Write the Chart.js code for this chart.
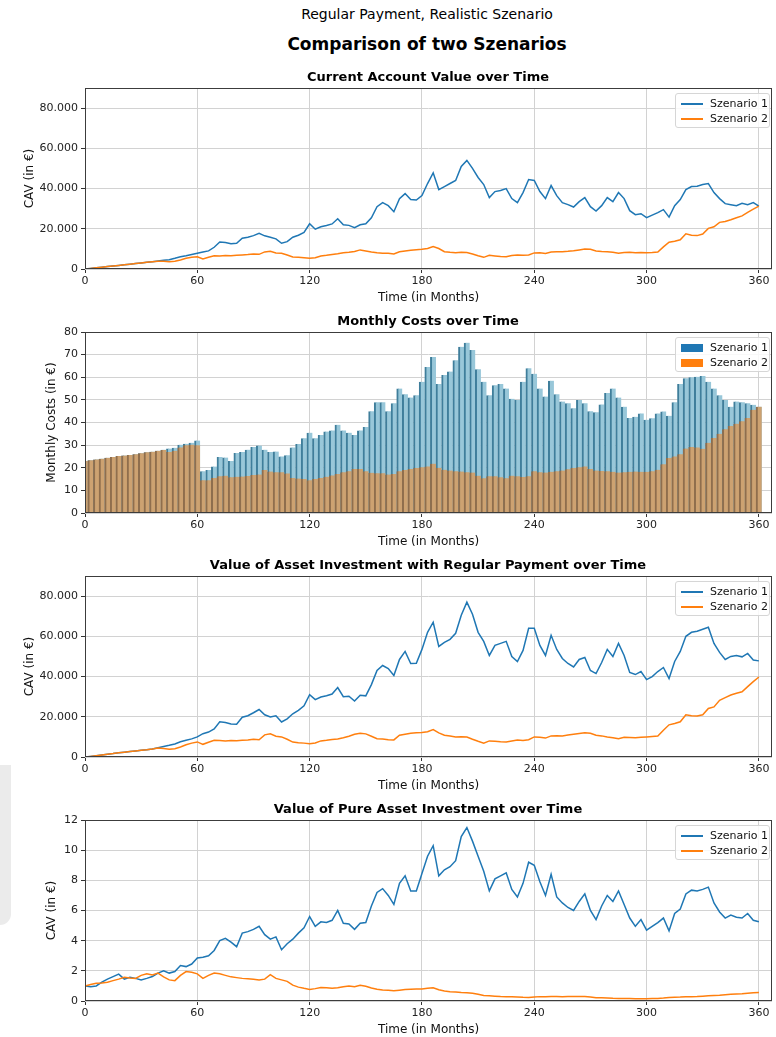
<!DOCTYPE html>
<html>
<head>
<meta charset="utf-8">
<title>Comparison of two Szenarios</title>
<script src="https://cdn.jsdelivr.net/npm/chart.js@4.4.0/dist/chart.umd.min.js"></script>
<style>
  body { margin: 0; background: #fff; font-family: "DejaVu Sans", sans-serif; }
  #page { position: relative; width: 776px; height: 1037px; overflow: hidden; background: #fff; }
  .txt { position: absolute; white-space: nowrap; transform: translateX(-50%); color: #000; }
  .suptitle { font-size: 14px; line-height: 17px; top: 6px; left: 427px; }
  .main { font-size: 17px; font-weight: bold; line-height: 20px; top: 34px; left: 427px; }
  .sub { font-size: 13px; font-weight: bold; line-height: 15px; left: 428px; z-index: 2; }
  canvas { position: absolute; left: 0; }
  .legend { position: absolute; left: 675px; width: 95px; height: 35px; box-sizing: border-box;
            border: 1px solid #d6d6d6; border-radius: 3px; background: rgba(255,255,255,0.85);
            font-size: 11px; color: #111; z-index: 3; }
  .legend .row { position: absolute; left: 0; height: 14px; line-height: 14px; width: 100%; }
  .legend .line { position: absolute; left: 5px; top: 6px; width: 22px; height: 2px; }
  .legend .rect { position: absolute; left: 5px; top: 3px; width: 22px; height: 8px; }
  .legend .lbl { position: absolute; left: 34px; top: 0; white-space: nowrap; }
  .shade { position: absolute; left: 0; top: 765px; width: 11px; height: 160px; background: #ebebeb;
           border-bottom-right-radius: 11px; }
</style>
</head>
<body>
<div id="page">
  <div class="shade"></div>
  <div class="txt suptitle">Regular Payment, Realistic Szenario</div>
  <div class="txt main">Comparison of two Szenarios</div>

  <div class="txt sub" style="top:69px">Current Account Value over Time</div>
  <canvas id="cavChart" width="776" height="229" style="top:78px"></canvas>

  <div class="txt sub" style="top:313px">Monthly Costs over Time</div>
  <canvas id="costChart" width="776" height="229" style="top:322px"></canvas>

  <div class="txt sub" style="top:557px">Value of Asset Investment with Regular Payment over Time</div>
  <canvas id="assetChart" width="776" height="229" style="top:566px"></canvas>

  <div class="txt sub" style="top:801px">Value of Pure Asset Investment over Time</div>
  <canvas id="pureChart" width="776" height="229" style="top:810px"></canvas>
</div>

<script>
// months of the simulation, sampled every 3 months
const months = [
  0, 3, 6, 9, 12, 15, 18, 21, 24, 27,
  30, 33, 36, 39, 42, 45, 48, 51, 54, 57,
  60, 63, 66, 69, 72, 75, 78, 81, 84, 87,
  90, 93, 96, 99, 102, 105, 108, 111, 114, 117,
  120, 123, 126, 129, 132, 135, 138, 141, 144, 147,
  150, 153, 156, 159, 162, 165, 168, 171, 174, 177,
  180, 183, 186, 189, 192, 195, 198, 201, 204, 207,
  210, 213, 216, 219, 222, 225, 228, 231, 234, 237,
  240, 243, 246, 249, 252, 255, 258, 261, 264, 267,
  270, 273, 276, 279, 282, 285, 288, 291, 294, 297,
  300, 303, 306, 309, 312, 315, 318, 321, 324, 327,
  330, 333, 336, 339, 342, 345, 348, 351, 354, 357,
  360
];

const monthTicks = [0, 60, 120, 180, 240, 300, 360];
const cavTicks = [0, 20000, 40000, 60000, 80000];
const costTicks = [0, 10, 20, 30, 40, 50, 60, 70, 80];
const pureTicks = [0, 2, 4, 6, 8, 10, 12];
const seriesNames = ['Szenario 1', 'Szenario 2'];

// current account value (EUR)
const currentS1 = [
  0, 300, 600, 900, 1200, 1500, 1800, 2100, 2400, 2700,
  3000, 3300, 3600, 4000, 4300, 4600, 5300, 6100, 6600, 7200,
  7800, 8400, 9000, 10800, 13400, 13200, 12600, 12800, 15300, 15800,
  16600, 17700, 16500, 15800, 15000, 12800, 13600, 15800, 16800, 18200,
  22500, 19800, 21000, 21600, 22400, 25000, 22000, 21700, 20500, 22000,
  22500, 25500, 31000, 33000, 31500, 28500, 35000, 37500, 34500, 34300,
  36500, 42500, 47800, 39500, 41000, 42500, 44000, 51000, 54000, 50000,
  45500, 42000, 35500, 38500, 39000, 40000, 35000, 33000, 38000, 44500,
  44000, 38500, 35000, 41500, 36500, 33000, 32000, 30800, 33500, 35500,
  31000, 28800, 31500, 35500, 33500, 38000, 35000, 29000, 27000, 27500,
  25500, 26800, 28000, 29500, 25800, 31500, 34500, 39500, 41000, 41200,
  42000, 42500, 38000, 35000, 32500, 32000, 31500, 32700, 32000, 33000,
  31300
];
const currentS2 = [
  0, 300, 600, 900, 1200, 1500, 1800, 2100, 2400, 2700,
  3000, 3300, 3600, 3900, 3800, 3600, 3900, 4500, 5300, 5800,
  6100, 5000, 5800, 6600, 6500, 6700, 6600, 6800, 7000, 7200,
  7500, 7300, 8500, 8800, 8000, 7800, 7000, 6000, 5900, 5600,
  5300, 5600, 6500, 6800, 7200, 7600, 8100, 8300, 8700, 9500,
  9000, 8500, 8100, 7800, 7800, 7500, 8600, 9000, 9300, 9600,
  9800, 10200, 11200, 10200, 8600, 8300, 8100, 8300, 8200, 7500,
  6600, 5800, 6800, 6500, 6200, 6100, 6700, 7000, 6800, 7000,
  8000, 8100, 7700, 8500, 8600, 8600, 8800, 9100, 9500, 9900,
  9800, 9000, 8700, 8600, 8300, 7800, 8200, 8300, 8100, 8200,
  8100, 8200, 8400, 11000, 13300, 13800, 14500, 17500, 16800, 16600,
  17400, 20200, 21000, 23200, 23600, 24500, 25500, 26400, 28200, 29800,
  31300
];

// monthly costs (EUR)
const costS1 = [
  23, 23.3, 23.7, 24, 24.4, 24.8, 25.2, 25.4, 25.6, 26,
  26.4, 26.8, 27.1, 27.5, 28, 28.5, 28.8, 30.2, 30.6, 31,
  32, 18.5, 19, 20.5, 24.8, 24.5, 23, 26.5, 27, 28,
  29.2, 29.8, 28, 27, 27.2, 25, 25.5, 29, 30.5, 33,
  35.5, 33, 34.5, 36, 36.5, 39, 36.5, 35.5, 34.5, 36.5,
  38, 45, 49, 49, 45, 48.5, 55, 52.5, 51, 52,
  58, 64.5, 69, 57, 61, 62.5, 67.5, 73.5, 75.3, 72,
  63.5, 58, 52, 56.5, 57, 55, 50.5, 50, 58, 64,
  61.5, 55, 51.5, 58.5, 52.5, 49.3, 48.5, 46.3, 50, 48.5,
  45, 44.5, 48, 53, 55, 51, 47, 42, 42.5, 44,
  41.2, 41.9, 44, 44.9, 43, 49, 57, 59.6, 60, 60.2,
  60.6, 58, 55, 52, 50, 47, 49.3, 49, 48.5, 47.8,
  47
];
const costS2 = [
  23, 23.3, 23.7, 24, 24.4, 24.8, 25.2, 25.4, 25.6, 26,
  26.4, 26.8, 27.1, 27.5, 27.8, 27, 27.5, 29, 30, 30.2,
  30, 14.5, 14.5, 15.5, 16.2, 16.5, 15.8, 16, 16.1, 16.3,
  16.8, 17, 19, 18.3, 18, 18, 17.5, 15.5, 15.2, 15,
  14.5, 15, 15.5, 16, 16.6, 17.2, 18, 18.5, 19.5, 19.5,
  18.5, 17.8, 17.6, 17.6, 17, 17.2, 18.4, 19, 19.5, 19.9,
  20.2, 20.6, 21.8, 20, 19.1, 18.8, 18.4, 18.3, 18, 17.9,
  16.5, 15.4, 16.2, 16.2, 15.8, 15.4, 16.5, 16.2, 15.9, 16.2,
  18.4, 18, 17.9, 18.2, 18.5, 18.8, 19.3, 19.9, 20.2, 20.6,
  19.5, 18.8, 18.6, 18.4, 18.2, 17.9, 18, 18.2, 18.3, 18.2,
  18.2, 18.5, 19.1, 21.5, 24.3, 25, 26, 28.5, 29.2, 29,
  28.4, 31, 33.1, 35, 37, 38.5, 39.5, 40.5, 42, 45.6,
  47
];

// asset investment with regular payment (EUR)
const assetS1 = [
  0, 300, 650, 1000, 1400, 1700, 2100, 2400, 2700, 3000,
  3300, 3600, 4000, 4600, 5200, 5800, 6500, 7600, 8300, 9000,
  10000, 11600, 12400, 14000, 17500, 17200, 16400, 16300, 19800, 20500,
  22000, 23600, 21000, 19900, 20500, 17400, 19000, 21500, 23200, 25500,
  31000, 28500, 29800, 30500, 31300, 34500, 30000, 30200, 27800, 30700,
  30400, 36000, 43000, 45500, 44000, 40500, 48500, 52500, 46500, 46600,
  53500, 62000, 67000, 55000, 57000, 58500, 61500, 70500, 77000, 71000,
  62000, 57500, 50500, 55500, 56500, 57500, 50000, 47500, 53000, 64000,
  64000, 55500, 50500, 60500, 53500, 49000, 46500, 44800, 48500, 49500,
  43000, 41500, 47000, 53500, 50000, 56500, 50500, 42000, 41000, 42500,
  38500, 40000, 42500, 44500, 39000, 47500, 52500, 60000, 62000, 62500,
  63500, 64500, 56500, 52000, 48500, 50000, 50500, 49800, 51500, 48200,
  47800
];
const assetS2 = [
  0, 300, 650, 1000, 1400, 1700, 2100, 2400, 2700, 3000,
  3300, 3600, 4000, 4500, 4200, 3900, 4100, 5000, 6100, 6900,
  7500, 6300, 7300, 8300, 8200, 8000, 8200, 8100, 8300, 8500,
  8800, 8600, 11000, 11500, 10300, 10000, 8800, 7400, 7100, 6900,
  6600, 7000, 8000, 8300, 8700, 9000, 9600, 10300, 11300, 11800,
  11500, 10300, 9100, 9000, 8600, 8500, 10800, 11300, 11800, 12000,
  12200, 12600, 13600, 12000, 10800, 10400, 10000, 10100, 9900, 8800,
  7800, 6900, 8000, 7800, 7600, 7500, 8000, 8400, 8200, 8600,
  10000, 9800, 9400, 10500, 10600, 10500, 10900, 11300, 11700, 12000,
  11800, 10800, 10500, 10000, 9600, 9100, 9800, 9700, 9600, 9800,
  10000, 10200, 10400, 13300, 16000, 16700, 17500, 21000, 20500, 20400,
  21000, 24100, 24900, 28200, 29500, 30800, 31700, 32400, 35000, 37500,
  39800
];

// pure asset investment (EUR per unit)
const pureS1 = [
  1.0, 0.95, 1.0, 1.25, 1.45, 1.62, 1.78, 1.45, 1.57, 1.5,
  1.4, 1.5, 1.62, 1.85, 2.0, 1.85, 1.95, 2.35, 2.28, 2.45,
  2.85, 2.9, 3.0, 3.35, 4.0, 4.15, 3.9, 3.6, 4.5, 4.6,
  4.75, 4.95, 4.4, 4.1, 4.25, 3.4, 3.8, 4.1, 4.5, 4.85,
  5.6, 4.95, 5.25, 5.2, 5.35, 6.0, 5.15, 5.1, 4.75, 5.15,
  5.2, 6.3, 7.2, 7.45, 7.0, 6.4, 7.8, 8.3, 7.3, 7.3,
  8.45, 9.6, 10.3, 8.3, 8.7, 8.9, 9.3, 10.9, 11.5, 10.6,
  9.6, 8.6, 7.3, 8.1, 8.3, 8.5, 7.4, 6.9, 7.8, 9.2,
  9.0, 7.9, 7.0, 8.4, 6.9, 6.5, 6.2, 6.0, 6.6, 7.1,
  6.0, 5.4, 6.3, 7.0, 6.6, 7.3, 6.4, 5.5, 4.95, 5.4,
  4.7, 4.95, 5.2, 5.5, 4.65, 5.8, 6.1, 7.1, 7.35, 7.3,
  7.4, 7.55, 6.5, 5.9, 5.5, 5.7, 5.55, 5.5, 5.8, 5.35,
  5.25
];
const pureS2 = [
  1.0, 1.1, 1.17, 1.2, 1.25, 1.35, 1.45, 1.57, 1.52, 1.5,
  1.7, 1.8, 1.72, 1.85, 1.6, 1.4, 1.35, 1.7, 1.95, 1.9,
  1.8, 1.5, 1.7, 1.85, 1.8, 1.7, 1.6, 1.55, 1.5, 1.48,
  1.44, 1.4, 1.45, 1.75, 1.5, 1.4, 1.3, 1.05, 0.92, 0.84,
  0.77, 0.82, 0.9, 0.88, 0.84, 0.88, 0.95, 1.0, 0.95, 1.05,
  0.98, 0.86, 0.78, 0.73, 0.72, 0.68, 0.72, 0.76, 0.78, 0.8,
  0.8, 0.84, 0.88, 0.75, 0.67, 0.62, 0.6, 0.57, 0.55, 0.52,
  0.45, 0.36, 0.34, 0.32, 0.3, 0.29, 0.28, 0.27, 0.25, 0.24,
  0.27, 0.29, 0.29, 0.3, 0.3, 0.29, 0.3, 0.3, 0.3, 0.3,
  0.27, 0.22, 0.21, 0.2, 0.18, 0.17, 0.17, 0.16, 0.15, 0.15,
  0.15, 0.16, 0.17, 0.2, 0.24, 0.25, 0.26, 0.28, 0.29, 0.3,
  0.32, 0.34, 0.36, 0.38, 0.41, 0.44, 0.46, 0.48, 0.51, 0.54,
  0.57
];

const blue = '#1f77b4';
const orange = '#ff7f0e';

Chart.defaults.font.family = '"DejaVu Sans", sans-serif';
Chart.defaults.color = '#222';

// matplotlib-like box around the plot area
const framePlugin = {
  id: 'frame',
  afterDatasetsDraw(chart) {
    const { ctx, chartArea: a } = chart;
    ctx.save();
    ctx.strokeStyle = '#3c3c3c';
    ctx.lineWidth = 1;
    ctx.strokeRect(Math.round(a.left) + 0.5, Math.round(a.top) + 0.5,
                   Math.round(a.width) - 1, Math.round(a.height) - 1);
    ctx.restore();
  }
};

// 80000 -> "80.000"
const dotted = v => String(v).replace(/\B(?=(\d{3})+(?!\d))/g, '.');

function buildScales(yTicks, yMax, yTitle, padLeft, fmt) {
  return {
    x: {
      type: 'linear',
      min: 0,
      max: 367,
      offset: false,
      afterBuildTicks: axis => { axis.ticks = monthTicks.map(v => ({ value: v })); },
      afterFit: axis => { axis.height = 38; },
      grid: { color: '#d2d2d2', tickColor: '#333', tickLength: 4, offset: false },
      border: { display: false },
      ticks: { font: { size: 11 }, color: '#222', padding: 2, maxRotation: 0, autoSkip: false },
      title: { display: true, text: 'Time (in Months)', font: { size: 12 }, color: '#111',
               padding: { top: 0, bottom: 2 } }
    },
    y: {
      min: 0,
      max: yMax,
      afterBuildTicks: axis => { axis.ticks = yTicks.map(v => ({ value: v })); },
      afterFit: axis => { axis.width = 85 - padLeft; },
      grid: { color: '#d2d2d2', tickColor: '#333', tickLength: 4 },
      border: { display: false },
      ticks: { font: { size: 11 }, color: '#222', padding: 3, callback: v => fmt(v) },
      title: { display: true, text: yTitle, font: { size: 12 }, color: '#111' }
    }
  };
}

function lineSet(label, values, color, order) {
  return {
    label: label,
    data: months.map((m, i) => ({ x: m, y: values[i] })),
    borderColor: color,
    backgroundColor: color,
    borderWidth: 1.5,
    pointRadius: 0,
    tension: 0,
    order: order
  };
}

function barSet(label, values, fill, edge, order) {
  return {
    label: label,
    data: months.map((m, i) => ({ x: m, y: values[i] })),
    backgroundColor: fill,
    borderColor: edge,
    borderWidth: { left: 2, right: 0, top: 0, bottom: 0 },
    borderSkipped: false,
    grouped: false,
    barPercentage: 1,
    categoryPercentage: 1,
    order: order
  };
}

function makeChart(id, type, datasets, scales, padLeft) {
  return new Chart(document.getElementById(id), {
    type: type,
    data: { datasets: datasets },
    options: {
      responsive: false,
      animation: false,
      devicePixelRatio: 1,
      layout: { padding: { top: 10, right: 4, bottom: 0, left: padLeft } },
      plugins: { legend: { display: false }, tooltip: { enabled: false } },
      scales: scales
    },
    plugins: [framePlugin]
  });
}

// legend box in the upper right corner of each plot
function addLegend(top, kind) {
  const box = document.createElement('div');
  box.className = 'legend';
  box.style.top = top + 'px';
  [blue, orange].forEach((color, i) => {
    const row = document.createElement('div');
    row.className = 'row';
    row.style.top = (3 + i * 15) + 'px';
    const swatch = document.createElement('span');
    swatch.className = kind === 'bar' ? 'rect' : 'line';
    swatch.style.background = color;
    const lbl = document.createElement('span');
    lbl.className = 'lbl';
    lbl.textContent = seriesNames[i];
    row.appendChild(swatch);
    row.appendChild(lbl);
    box.appendChild(row);
  });
  document.getElementById('page').appendChild(box);
}

makeChart('cavChart', 'line', [
  lineSet(seriesNames[0], currentS1, blue, 1),
  lineSet(seriesNames[1], currentS2, orange, 0)
], buildScales(cavTicks, 90000, 'CAV (in €)', 19, dotted), 19);

makeChart('costChart', 'bar', [
  barSet(seriesNames[0], costS1, '#98c7d9', '#3f7e9b', 1),
  barSet(seriesNames[1], costS2, '#cda271', '#8f6e4d', 0)
], buildScales(costTicks, 80, 'Monthly Costs (in €)', 41, v => v), 41);

makeChart('assetChart', 'line', [
  lineSet(seriesNames[0], assetS1, blue, 1),
  lineSet(seriesNames[1], assetS2, orange, 0)
], buildScales(cavTicks, 90000, 'CAV (in €)', 19, dotted), 19);

makeChart('pureChart', 'line', [
  lineSet(seriesNames[0], pureS1, blue, 1),
  lineSet(seriesNames[1], pureS2, orange, 0)
], buildScales(pureTicks, 12, 'CAV (in €)', 41, v => v), 41);

addLegend(93, 'line');
addLegend(337, 'bar');
addLegend(581, 'line');
addLegend(825, 'line');
</script>
</body>
</html>
